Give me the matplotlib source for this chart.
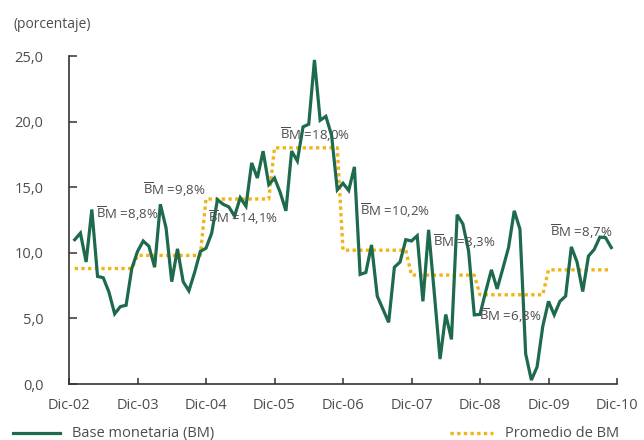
import numpy as np
import matplotlib
matplotlib.use("Agg")
import matplotlib.pyplot as plt
from matplotlib.lines import Line2D

plt.rcParams["font.family"] = ["Open Sans", "DejaVu Sans"]
plt.rcParams["mathtext.fontset"] = "custom"
plt.rcParams["mathtext.rm"] = "Open Sans"

# monthly growth of base monetaria, Jan-03 .. Nov-10 (percent)
bm = [
    11.0, 11.5, 9.3, 13.3, 8.2, 8.1, 7.0, 5.35, 5.9, 6.0, 8.8,
    10.1, 10.9, 10.5, 8.9, 13.7, 11.9, 7.8, 10.3, 7.8, 7.1, 8.5, 10.1,
    10.35, 11.5, 14.05, 13.7, 13.5, 12.8, 14.2, 13.55, 16.85, 15.7, 17.75, 15.2,
    15.7, 14.6, 13.2, 17.75, 17.0, 19.6, 19.8, 24.7, 20.1, 20.4, 18.95, 14.8,
    15.3, 14.75, 16.55, 8.35, 8.5, 10.6, 6.7, 5.7, 4.7, 8.9, 9.3, 11.0,
    10.9, 11.3, 6.3, 11.75, 6.9, 1.9, 5.3, 3.4, 12.9, 12.2, 10.15, 5.27,
    5.3, 7.05, 8.7, 7.25, 8.8, 10.4, 13.2, 11.8, 2.3, 0.3, 1.3, 4.4,
    6.3, 5.27, 6.3, 6.7, 10.45, 9.3, 7.05, 9.75, 10.25, 11.2, 11.15, 10.4,
]
# yearly averages 2003..2010
avg_year = [8.8, 9.8, 14.1, 18.0, 10.2, 8.3, 6.8, 8.7]
avg_labels = ["8,8", "9,8", "14,1", "18,0", "10,2", "8,3", "6,8", "8,7"]
# label anchor (month index, value) for each average text
label_x = [4.7, 13.0, 24.3, 36.95, 51.0, 63.7, 71.8, 84.2]
label_y = [13.0, 14.8, 12.7, 19.0, 13.2, 10.85, 5.2, 11.6]

tick_labels = ["Dic-02", "Dic-03", "Dic-04", "Dic-05", "Dic-06",
               "Dic-07", "Dic-08", "Dic-09", "Dic-10"]

GREEN = "#1e6a4c"
ORANGE = "#f0b414"
TEXT = "#4d4d4d"

months = np.arange(1, len(bm) + 1)
# the Dec point already carries the next year's average
bm_avg = [avg_year[m // 12] for m in months]

fig = plt.figure(figsize=(6.44, 4.40), dpi=100)
ax = fig.add_axes([69 / 644, 56 / 440, 548 / 644, 328 / 440])

ax.plot(months, bm_avg, color=ORANGE, lw=2.4, dashes=(1, 1),
        dash_capstyle="butt", zorder=2)
ax.plot(months, bm, color=GREEN, lw=2.3, zorder=3, solid_joinstyle="miter")

for lx, ly, lab in zip(label_x, label_y, avg_labels):
    ax.text(lx, ly, r"$\overline{\mathrm{B}}$M =" + lab + "%", fontsize=9.5,
            color=TEXT, ha="left", va="center", zorder=4)

ax.set_xlim(0, 96)
ax.set_ylim(0, 25)
ax.set_xticks(np.arange(0, 97, 12))
ax.set_xticklabels(tick_labels)
ax.set_yticks(np.arange(0, 25.1, 5))
ax.set_yticklabels([f"{v:.1f}".replace(".", ",") for v in np.arange(0, 25.1, 5)])

for s in ["top", "right"]:
    ax.spines[s].set_visible(False)
for s in ["left", "bottom"]:
    ax.spines[s].set_color("#333333")
    ax.spines[s].set_linewidth(1.2)
ax.tick_params(axis="y", direction="in", length=5.5, width=1.1,
               color="#333333", pad=18.5, labelsize=10.5, labelcolor=TEXT)
ax.tick_params(axis="x", direction="in", length=4, width=1.1,
               color="#333333", pad=10, labelsize=10.5, labelcolor=TEXT)

fig.text(13 / 644, 1 - 24 / 440, "(porcentaje)", fontsize=10, color=TEXT,
         ha="left", va="center")

# legend
fig.add_artist(Line2D([13 / 644, 60 / 644], [1 - 433 / 440] * 2,
                      transform=fig.transFigure, color=GREEN, lw=2.3))
fig.text(72 / 644, 1 - 433 / 440, "Base monetaria (BM)", fontsize=10.5,
         color=TEXT, ha="left", va="center")
fig.add_artist(Line2D([450 / 644, 493 / 644], [1 - 433 / 440] * 2,
                      transform=fig.transFigure, color=ORANGE, lw=2.4,
                      dashes=(1, 1), dash_capstyle="butt"))
fig.text(505 / 644, 1 - 433 / 440, "Promedio de BM", fontsize=10.5,
         color=TEXT, ha="left", va="center")

fig.savefig("out.png", dpi=100)
